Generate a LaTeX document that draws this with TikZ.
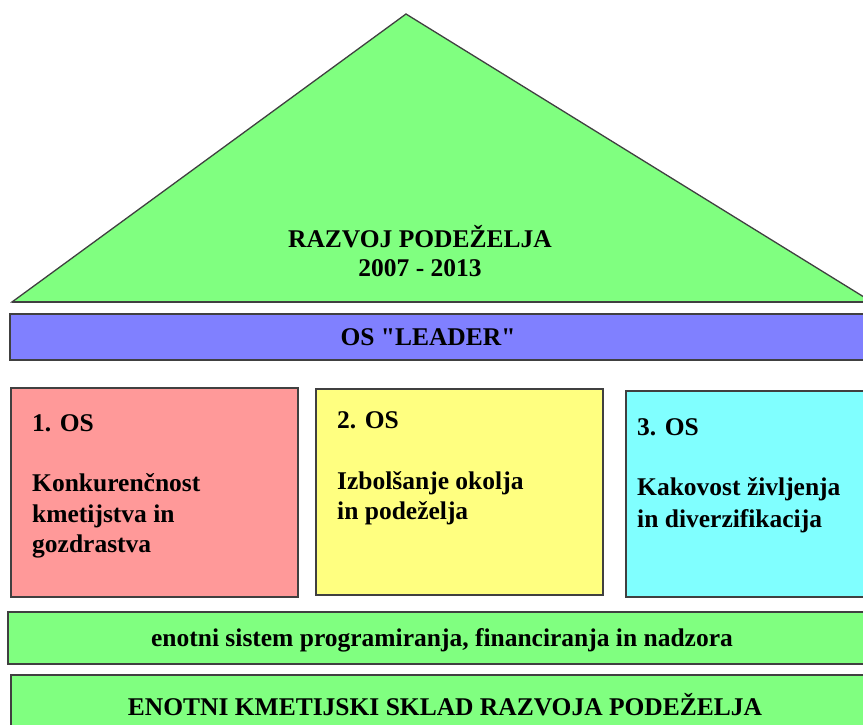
\documentclass[tikz,border=0pt]{standalone}
\usepackage{fontspec}
\setmainfont{Liberation Serif}[Ligatures=TeXOff]
\definecolor{cgreen}{HTML}{80FF80}
\definecolor{cblue}{HTML}{8080FF}
\definecolor{cpink}{HTML}{FF9999}
\definecolor{cyellow}{HTML}{FFFF80}
\definecolor{ccyan}{HTML}{80FFFF}
\definecolor{cline}{HTML}{404040}
\begin{document}
\begin{tikzpicture}[x=1pt,y=-1pt,
  panel/.style={draw=cline, line width=1.6pt},
  lbl/.style={inner sep=0pt, font=\bfseries\fontsize{25.5}{31}\selectfont},
  lblw/.style={lbl, anchor=base west},
  lblc/.style={lbl, anchor=base}]
\useasboundingbox (0,0) rectangle (863,725);
\clip (0,0) rectangle (863,725);
\fill[white] (0,0) rectangle (863,725);
% roof
\draw[panel, fill=cgreen, line width=1.3pt] (12,302) -- (406,14) -- (872,302) -- cycle;
\draw[cline, line width=2pt] (12,302) -- (872,302);
\node[lblc] (title) at (420,247) {RAZVOJ PODEŽELJA};
\node[lblc] (years) at (420,276) {2007 - 2013};
% leader bar
\draw[panel, fill=cblue] (10,314) rectangle (880,360);
\node[lblc] (leader) at (428,345) {OS "LEADER"};
% three axes
\draw[panel, fill=cpink] (11,388) rectangle (298,597);
\draw[panel, fill=cyellow] (316,389) rectangle (603,595);
\draw[panel, fill=ccyan] (626,391) rectangle (880,597);
\node[lblw] (os1) at (32,431) {1. OS};
\node[lblw] (os1a) at (32,491) {Konkurenčnost};
\node[lblw] (os1b) at (32,522) {kmetijstva in};
\node[lblw] (os1c) at (32,552) {gozdrastva};
\node[lblw] (os2) at (337,428) {2. OS};
\node[lblw] (os2a) at (337,489) {Izbolšanje okolja};
\node[lblw] (os2b) at (337,519) {in podeželja};
\node[lblw] (os3) at (637,435) {3. OS};
\node[lblw] (os3a) at (637,495) {Kakovost življenja};
\node[lblw] (os3b) at (637,527) {in diverzifikacija};
% foundation bars
\draw[panel, fill=cgreen] (8,612) rectangle (880,664);
\node[lblc] (sys) at (442,646) {enotni sistem programiranja, financiranja in nadzora};
\draw[panel, fill=cgreen] (11,675) rectangle (880,745);
\node[lblc] (fund) at (445,715) {ENOTNI KMETIJSKI SKLAD RAZVOJA PODEŽELJA};
\end{tikzpicture}
\end{document}
